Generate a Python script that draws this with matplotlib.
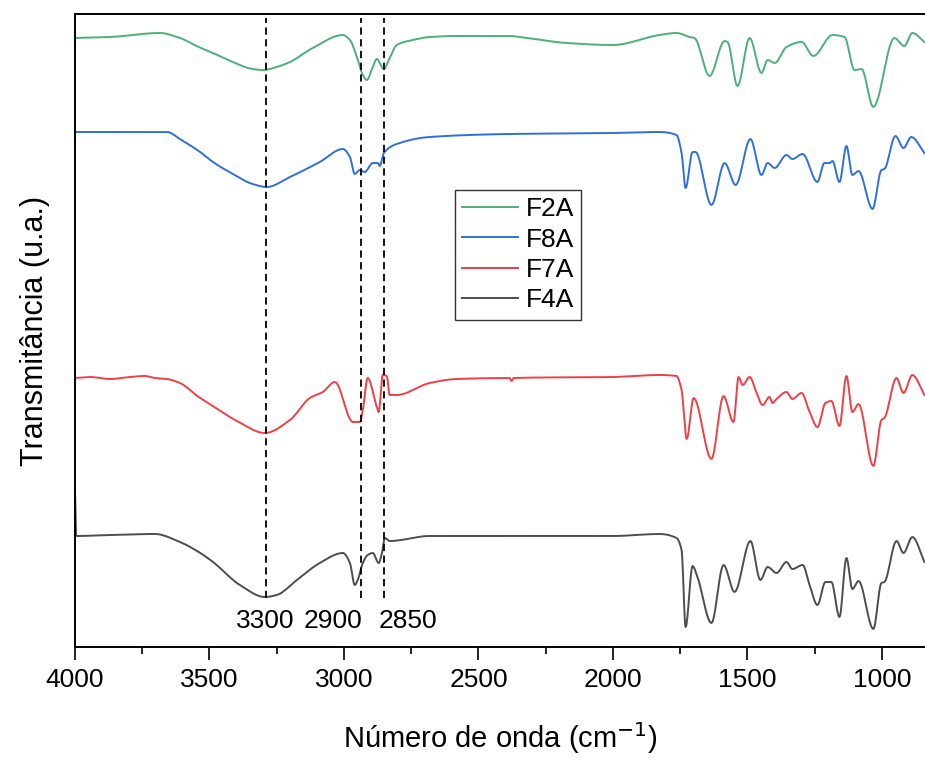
import numpy as np
import matplotlib
matplotlib.use("Agg")
import matplotlib.pyplot as plt
from matplotlib.ticker import MultipleLocator

plt.rcParams['font.family'] = ['Liberation Sans', 'DejaVu Sans']

# FTIR spectra, transmittance in arbitrary units (curves already offset)
wn_f2a = [4000, 3870, 3684, 3610, 3540, 3487, 3413, 3340, 3300, 3250, 3201, 3116,
          3004, 2978, 2952, 2930, 2915, 2893, 2878, 2852, 2830, 2804, 2744, 2681,
          2581, 2384, 2321, 2172, 2001, 1827, 1764, 1715, 1697, 1641, 1585, 1574,
          1537, 1492, 1448, 1425, 1399, 1355, 1299, 1255, 1184, 1139, 1102, 1076,
          1032, 954, 917, 887, 842]
t_f2a = [60.9, 61.0, 61.4, 60.9, 60.0, 59.4, 58.5, 57.8, 57.7, 58.0, 58.5, 59.9,
         61.2, 60.7, 59.0, 57.2, 56.7, 58.0, 58.8, 57.8, 58.9, 60.2, 60.7, 61.0,
         61.1, 61.1, 60.9, 60.4, 60.2, 61.2, 61.4, 61.0, 60.9, 57.1, 60.6, 60.5,
         56.1, 60.9, 57.4, 58.7, 58.4, 60.0, 60.5, 59.1, 61.2, 61.0, 57.7, 57.8,
         54.0, 60.9, 60.1, 61.4, 60.5]

wn_f8a = [4000, 3658, 3610, 3540, 3487, 3413, 3340, 3287, 3201, 3090, 3004, 2978,
          2960, 2941, 2923, 2893, 2874, 2867, 2852, 2804, 2681, 2384, 2001, 1827,
          1764, 1745, 1730, 1704, 1693, 1634, 1585, 1544, 1489, 1448, 1425, 1399,
          1355, 1333, 1295, 1240, 1214, 1195, 1184, 1158, 1132, 1110, 1087, 1035,
          1002, 991, 950, 920, 891, 842]
t_f8a = [51.5, 51.5, 50.8, 49.6, 48.5, 47.3, 46.3, 46.0, 47.0, 48.5, 49.8, 49.0,
         47.3, 47.7, 47.5, 48.4, 48.4, 48.1, 49.4, 50.3, 51.0, 51.3, 51.4, 51.5,
         51.2, 49.4, 45.9, 49.5, 49.5, 44.2, 48.4, 46.2, 50.8, 47.2, 48.4, 47.9,
         49.2, 48.8, 49.3, 46.5, 48.4, 48.4, 48.6, 46.5, 50.1, 47.2, 47.6, 43.8,
         47.7, 47.8, 51.1, 49.9, 51.0, 49.4]

wn_f7a = [4000, 3944, 3870, 3796, 3740, 3703, 3658, 3610, 3540, 3487, 3398, 3294,
          3201, 3127, 3079, 3034, 2967, 2941, 2930, 2912, 2878, 2871, 2856, 2841,
          2830, 2804, 2681, 2581, 2384, 2377, 2370, 2001, 1827, 1764, 1745, 1726,
          1700, 1634, 1589, 1552, 1533, 1518, 1492, 1466, 1444, 1418, 1407, 1392,
          1355, 1333, 1299, 1269, 1240, 1210, 1188, 1158, 1132, 1110, 1087, 1032,
          1002, 991, 946, 920, 887, 842]
t_f7a = [26.9, 27.0, 26.8, 27.0, 27.1, 26.9, 26.8, 26.4, 25.0, 24.1, 22.6, 21.4,
         22.7, 24.9, 25.5, 26.5, 22.5, 22.5, 23.7, 26.9, 24.0, 23.5, 27.2, 27.1,
         25.2, 25.2, 26.4, 26.8, 26.9, 26.6, 26.9, 27.0, 27.2, 27.1, 25.7, 20.8,
         24.9, 18.8, 25.1, 22.5, 27.0, 26.2, 27.0, 25.4, 24.2, 25.0, 24.4, 24.8,
         25.5, 24.8, 25.4, 23.5, 22.0, 24.4, 24.6, 22.1, 27.1, 23.5, 24.3, 18.1,
         22.7, 22.9, 26.9, 25.4, 27.2, 25.2]

wn_f4a = [4000, 3996, 3870, 3703, 3610, 3540, 3487, 3387, 3294, 3250, 3175, 3090,
          3004, 2978, 2960, 2949, 2930, 2912, 2893, 2871, 2859, 2848, 2830, 2681,
          2001, 1827, 1764, 1745, 1730, 1704, 1686, 1634, 1589, 1548, 1489, 1452,
          1425, 1392, 1355, 1333, 1295, 1269, 1240, 1210, 1188, 1158, 1132, 1110,
          1087, 1032, 1002, 991, 946, 920, 887, 842]
t_f4a = [15.7, 11.1, 11.2, 11.3, 10.5, 9.5, 8.5, 6.2, 5.0, 5.2, 6.7, 8.4,
         9.4, 8.4, 6.2, 6.7, 8.4, 9.2, 9.4, 8.4, 9.4, 10.9, 10.6, 11.1,
         11.1, 11.3, 10.9, 9.7, 2.0, 8.1, 7.0, 2.4, 8.2, 5.5, 10.6, 6.7,
         8.0, 7.4, 8.5, 7.8, 8.2, 6.2, 4.2, 6.5, 6.5, 3.0, 8.9, 5.8,
         6.6, 1.8, 6.4, 6.5, 10.6, 9.4, 11.0, 8.5]

series_names = ['F2A', 'F8A', 'F7A', 'F4A']
series_colors = ['#4CB07A', '#2F6FDC', '#EF3F47', '#4D4D4D']

# marked bands
band_positions = [3290, 2935, 2853]
band_labels = ['3300', '2900', '2850']
band_label_x = [3294, 3042, 2763]


def smooth_line(wn, t, per_seg=12):
    """Shape-preserving cubic (PCHIP) drawing path through the read points."""
    x = -np.asarray(wn, float)
    y = np.asarray(t, float)
    h = np.diff(x)
    d = np.diff(y) / h
    m = np.zeros_like(y)
    m[0], m[-1] = d[0], d[-1]
    for k in range(1, len(y) - 1):
        if d[k - 1] * d[k] > 0:
            w1 = 2 * h[k] + h[k - 1]
            w2 = h[k] + 2 * h[k - 1]
            m[k] = (w1 + w2) / (w1 / d[k - 1] + w2 / d[k])
    xs, ys = [], []
    for k in range(len(h)):
        s = np.linspace(0, 1, per_seg, endpoint=False)
        h00 = 2 * s**3 - 3 * s**2 + 1
        h10 = s**3 - 2 * s**2 + s
        h01 = -2 * s**3 + 3 * s**2
        h11 = s**3 - s**2
        xs.append(x[k] + s * h[k])
        ys.append(h00 * y[k] + h10 * h[k] * m[k] + h01 * y[k + 1] + h11 * h[k] * m[k + 1])
    xs.append([x[-1]])
    ys.append([y[-1]])
    return -np.concatenate(xs), np.concatenate(ys)


fig = plt.figure(figsize=(9.25, 7.6), dpi=100)
ax = fig.add_axes([75 / 925, 1 - 647 / 760, 1 - 75 / 925, (647 - 14) / 760])

for wn, t, name, col in zip([wn_f2a, wn_f8a, wn_f7a, wn_f4a],
                            [t_f2a, t_f8a, t_f7a, t_f4a],
                            series_names, series_colors):
    xs, ys = smooth_line(wn, t)
    ax.plot(xs, ys, color=col, lw=1.4, label=name)

ax.vlines(band_positions, 4.9, 62.9, colors='black', linestyles=(0, (4, 2.5)), lw=1.3)
for xp, lab in zip(band_label_x, band_labels):
    ax.text(xp, 2.6, lab, ha='center', va='center', fontsize=19)

ax.set_xlim(4000, 840)
ax.set_ylim(0, 63.3)
ax.xaxis.set_major_locator(MultipleLocator(500))
ax.xaxis.set_minor_locator(MultipleLocator(250))
ax.tick_params(axis='x', which='major', direction='out', length=9, width=1.2,
               labelsize=19, pad=6)
ax.tick_params(axis='x', which='minor', direction='out', length=5, width=1.2)
ax.set_yticks([])
ax.spines['right'].set_visible(False)
for s in ['top', 'left', 'bottom']:
    ax.spines[s].set_linewidth(1.4)

ax.set_xlabel('Número de onda (cm$^{-1}$)', fontsize=21, labelpad=20)
ax.set_ylabel('Transmitância (u.a.)', fontsize=22, labelpad=18)

leg = ax.legend(loc='upper left', bbox_to_anchor=(0.447, 0.722), borderaxespad=0,
                fontsize=19, handlelength=2.1, handletextpad=0.3,
                labelspacing=0.24, fancybox=False, framealpha=1,
                edgecolor='#333333', borderpad=0.28)
leg.get_frame().set_linewidth(1.0)

fig.savefig('out.png', dpi=100)
